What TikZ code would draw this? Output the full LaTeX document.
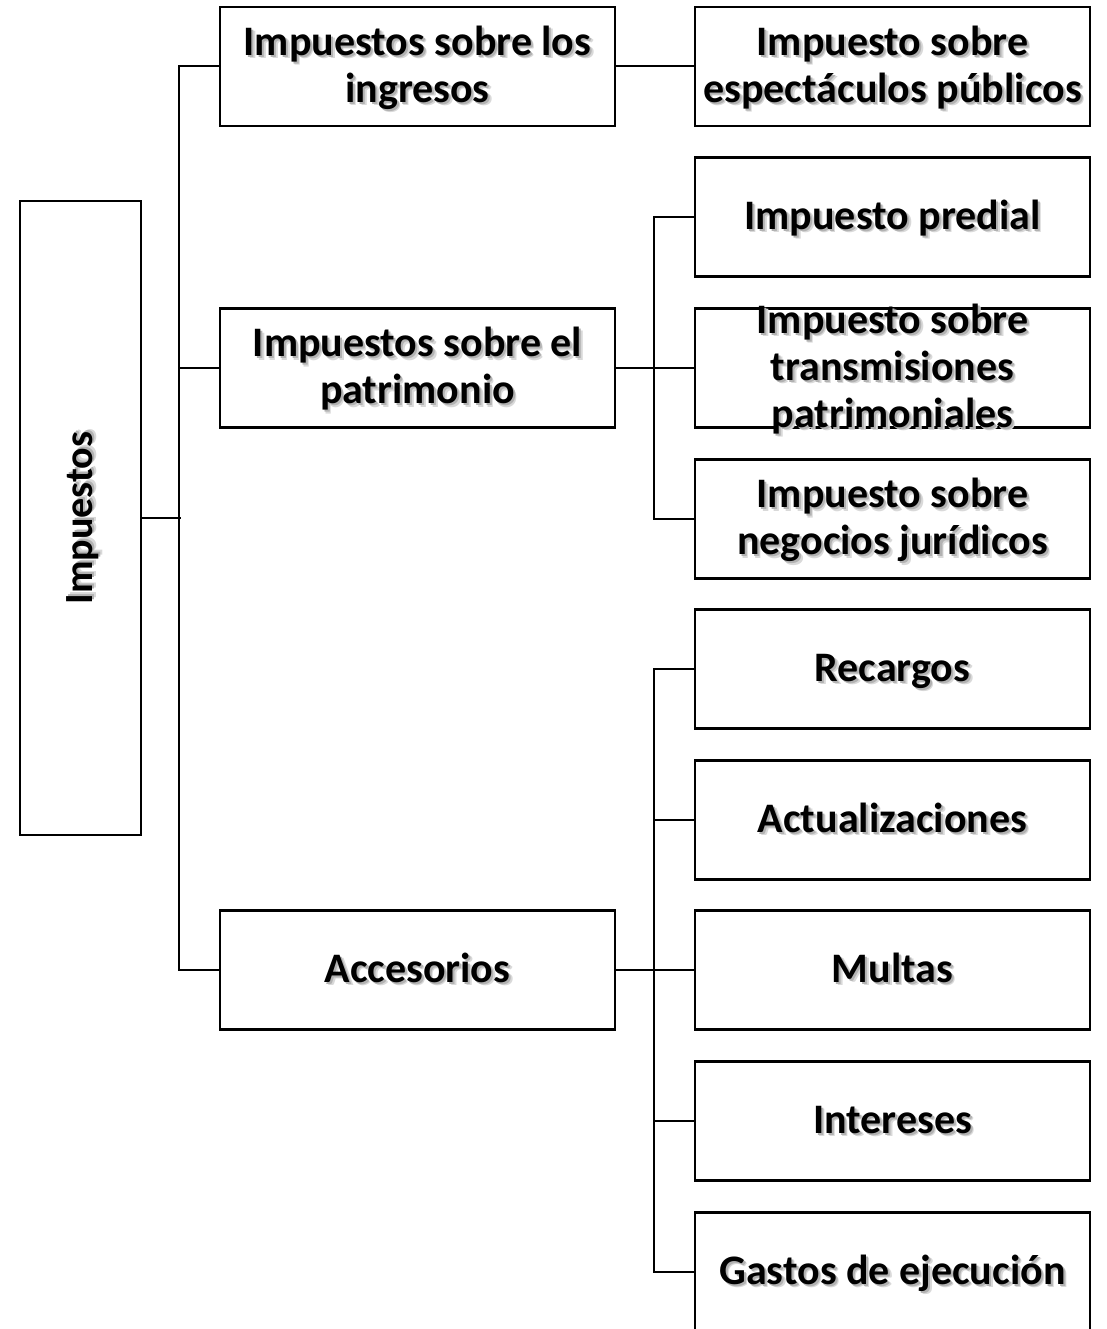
\documentclass[tikz,border=0pt]{standalone}
\usepackage{fontspec}
\setmainfont{Carlito}
\usepackage{xcolor}
\newsavebox\shdbox
\newcommand\shdlayer[3]{\rlap{\raisebox{-#1}[0pt][0pt]{\hspace{#1}\color{black!#2}\begin{tabular}{@{}c@{}}#3\end{tabular}}}}
\newcommand\shdmake[1]{\sbox\shdbox{\shdlayer{3.5pt}{15}{#1}\shdlayer{2pt}{30}{#1}\begin{tabular}{@{}c@{}}#1\end{tabular}}}
\newcommand\shd[1]{\shdmake{#1}\raisebox{-3pt}[\ht\shdbox][\dp\shdbox]{\usebox\shdbox}}
\newcommand\shdz[1]{\shdmake{#1}\raisebox{\dimexpr (\dp\shdbox-\ht\shdbox)/2-3pt\relax}[0pt][0pt]{\usebox\shdbox}}
\tikzset{
  box/.style={draw, line width=2.2pt, minimum width=395pt, minimum height=119pt, inner sep=0pt, font=\bfseries\fontsize{42}{47}\selectfont},
  conn/.style={line width=2pt}
}
\begin{document}
\begin{tikzpicture}[x=1pt,y=-1pt]
\useasboundingbox (0,0) rectangle (1106,1329);
\node[box, minimum width=121pt, minimum height=634pt] (imp) at (80.5,518) {};
\node[rotate=90, inner sep=0pt, font=\bfseries\fontsize{40}{47}\selectfont] (impt) at (80.5,518) {\shd{Impuestos}};
\node[box] (b1) at (417.5,66.5) {\shd{Impuestos sobre los\\ingresos}};
\node[box] (b2) at (417.5,368) {\shd{Impuestos sobre el\\patrimonio}};
\node[box] (b3) at (417.5,970) {\shd{Accesorios}};
\node[box] (c1) at (892.5,66.5) {\shd{Impuesto sobre\\espectáculos públicos}};
\node[box] (c2) at (892.5,217) {\shd{Impuesto predial}};
\node[box] (c3) at (892.5,368) {\shdz{Impuesto sobre\\transmisiones\\patrimoniales}};
\node[box] (c4) at (892.5,519) {\shd{Impuesto sobre\\negocios jurídicos}};
\node[box] (c5) at (892.5,669) {\shd{Recargos}};
\node[box] (c6) at (892.5,820) {\shd{Actualizaciones}};
\node[box] (c7) at (892.5,970) {\shd{Multas}};
\node[box] (c8) at (892.5,1121) {\shd{Intereses}};
\node[box] (c9) at (892.5,1272) {\shd{Gastos de ejecución}};
\draw[conn] (imp.east) -- ++(39,0);
\draw[conn] (b1.west) -- ++(-40,0) |- (b3.west);
\draw[conn] (b2.west) -- ++(-40,0);
\draw[conn] (b1.east) -- (c1.west);
\draw[conn] (b2.east) -- (c3.west);
\draw[conn] (c2.west) -- ++(-40,0) |- (c4.west);
\draw[conn] (b3.east) -- (c7.west);
\draw[conn] (c5.west) -- ++(-40,0) |- (c9.west);
\draw[conn] (c6.west) -- ++(-40,0);
\draw[conn] (c8.west) -- ++(-40,0);
\end{tikzpicture}
\end{document}
